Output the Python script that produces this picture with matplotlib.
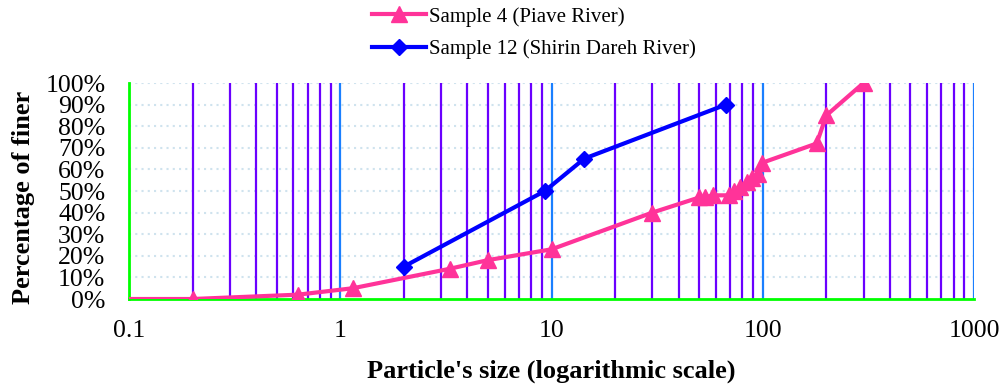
import matplotlib
matplotlib.use('Agg')
import matplotlib.pyplot as plt
from matplotlib.ticker import FixedLocator, FuncFormatter, NullLocator

# Sample 4 (Piave River): particle size and percentage of finer
size_piave = [0.1, 0.2, 0.63, 1.15, 3.3, 5, 10, 30, 50, 53, 58, 69, 73, 78, 84, 89, 95, 99, 180, 200, 300]
finer_piave = [0, 0, 2, 5, 14, 18, 23, 40, 47, 47, 48, 48, 50, 52, 54, 56, 58, 63, 72, 85, 100]

# Sample 12 (Shirin Dareh River)
size_shirin = [2, 9.3, 14.3, 67]
finer_shirin = [15, 50, 65, 90]

x_ticks = [0.1, 1, 10, 100, 1000]
x_tick_labels = ['0.1', '1', '10', '100', '1000']
y_ticks = list(range(0, 101, 10))

plt.rcParams['font.family'] = ['Liberation Serif', 'DejaVu Serif']

fig = plt.figure(figsize=(10.02, 3.85), dpi=100)
ax = fig.add_axes([129 / 1002, 1 - 299 / 385, (974 - 129) / 1002, (299 - 83) / 385])

ax.set_xscale('log')
ax.set_xlim(0.1, 1000)
ax.set_ylim(0, 100)

# vertical reference lines: decades in blue, the others in purple
for dec in [0.1, 1, 10, 100]:
    for k in range(2, 10):
        ax.axvline(dec * k, color='#6a00ff', lw=1.6, zorder=1)
for dec in [1, 10, 100, 1000]:
    ax.axvline(dec, color='#1a7fff', lw=1.6, zorder=1)

# dotted horizontal grid
for y in y_ticks[1:]:
    ax.axhline(y, color='#cfe3ee', lw=1.5, ls=(0, (1, 2)), zorder=0)

ax.plot(size_piave, finer_piave, color='#ff3399', lw=3, marker='^', ms=11,
        markevery=list(range(1, len(size_piave))), label='Sample 4 (Piave River)', zorder=3)
ax.plot(size_shirin, finer_shirin, color='#0000ff', lw=3, marker='D', ms=8.5,
        label='Sample 12 (Shirin Dareh River)', zorder=3)

for s in ['top', 'right']:
    ax.spines[s].set_visible(False)
for s in ['left', 'bottom']:
    ax.spines[s].set_color('#00ff00')
    ax.spines[s].set_linewidth(2)

ax.xaxis.set_major_locator(FixedLocator(x_ticks))
ax.xaxis.set_minor_locator(NullLocator())
ax.set_xticklabels(x_tick_labels)
ax.set_yticks(y_ticks)
ax.yaxis.set_major_formatter(FuncFormatter(lambda v, p: '%d%%' % v))
ax.tick_params(axis='both', length=0, labelsize=18.5)
ax.tick_params(axis='x', pad=15)
ax.tick_params(axis='y', pad=17)

ax.set_xlabel("Particle's size (logarithmic scale)", fontsize=19, fontweight='bold')
ax.xaxis.set_label_coords(0.5, -0.28)
ax.set_ylabel('Percentage of finer', fontsize=19, fontweight='bold')
ax.yaxis.set_label_coords(-0.111, 0.47)

fig.legend(handles=ax.get_lines()[-2:], loc='upper left', bbox_to_anchor=(372 / 1002, 0.982),
           frameon=False, fontsize=15, handlelength=2.6, handletextpad=0.15,
           labelspacing=0.6, borderaxespad=0, borderpad=0)

fig.savefig('out.png', dpi=100)
